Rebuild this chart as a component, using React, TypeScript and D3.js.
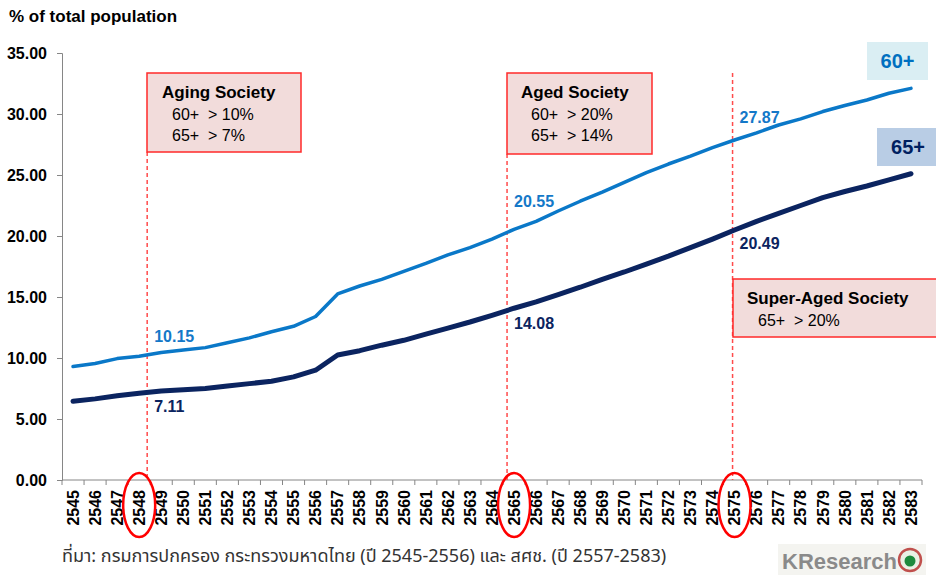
import React, { useEffect, useRef } from "react";
import * as d3 from "d3";

// years (Thai B.E.)
const years = d3.range(2545, 2584);
// share of total population, age 60+
const pop60 = [
  9.3, 9.55, 9.95, 10.15, 10.45, 10.65, 10.85, 11.25, 11.65, 12.15, 12.6, 13.4, 15.25,
  15.9, 16.45, 17.1, 17.75, 18.45, 19.05, 19.75, 20.55, 21.2, 22.05, 22.85, 23.6, 24.4,
  25.2, 25.9, 26.55, 27.25, 27.87, 28.45, 29.1, 29.6, 30.2, 30.7, 31.15, 31.7, 32.1,
];
// share of total population, age 65+
const pop65 = [
  6.45, 6.65, 6.9, 7.11, 7.3, 7.4, 7.5, 7.7, 7.9, 8.1, 8.45, 9.0, 10.25,
  10.6, 11.05, 11.45, 11.95, 12.45, 12.95, 13.5, 14.08, 14.6, 15.2, 15.8, 16.45, 17.05,
  17.7, 18.35, 19.05, 19.75, 20.49, 21.2, 21.85, 22.5, 23.15, 23.65, 24.1, 24.6, 25.1,
];
const yTicks = [0, 5, 10, 15, 20, 25, 30, 35];
const markerYears = [2548, 2565, 2575];

const FONT = "'Liberation Sans', Arial, sans-serif";

export default function App() {
  const ref = useRef<SVGSVGElement | null>(null);

  useEffect(() => {
    document.body.style.margin = "0";
    const width = 936;
    const height = 576;
    const margin = { top: 53, right: 14, bottom: 96, left: 62 };

    const svg = d3.select(ref.current).attr("width", width).attr("height", height);
    svg.selectAll("*").remove();

    const x = d3.scaleBand<number>().domain(years).range([margin.left, width - margin.right]).padding(0);
    const cx = (yr: number) => (x(yr) as number) + x.bandwidth() / 2;
    const y = d3.scaleLinear().domain([0, 35]).range([height - margin.bottom, margin.top]);
    const base = y(0);
    const xEnd = width - margin.right;

    // title
    svg.append("text").attr("x", 9).attr("y", 22).text("% of total population")
      .attr("font-family", FONT).attr("font-weight", "bold").attr("font-size", 17).attr("fill", "#000");

    // y axis
    const yAxis = svg.append("g").attr("transform", `translate(${margin.left},0)`)
      .call(d3.axisLeft(y).tickValues(yTicks).tickFormat((d) => d3.format(".2f")(d as number)).tickSize(5).tickPadding(10));
    yAxis.select(".domain").attr("stroke", "#868686");
    yAxis.selectAll(".tick line").attr("stroke", "#868686");
    yAxis.selectAll("text").attr("font-family", FONT).attr("font-weight", "bold").attr("font-size", 16).attr("fill", "#000");

    // x axis, ticks on category edges
    const gx = svg.append("g");
    gx.append("line").attr("x1", margin.left).attr("x2", xEnd).attr("y1", base).attr("y2", base).attr("stroke", "#868686");
    const edges = [...years.map((d) => x(d) as number), xEnd];
    gx.selectAll("line.tk").data(edges).enter().append("line").attr("class", "tk")
      .attr("x1", (d) => d).attr("x2", (d) => d)
      .attr("y1", base).attr("y2", base + 5).attr("stroke", "#868686");
    gx.selectAll("text").data(years).enter().append("text")
      .attr("transform", (d) => `translate(${cx(d)},${base + 10}) rotate(-90)`)
      .attr("dy", "0.36em").attr("text-anchor", "end").text((d) => d)
      .attr("font-family", FONT).attr("font-weight", "bold").attr("font-size", 16).attr("fill", "#000");

    // dashed marker lines (hand-placed slightly off the category centre, as in the source)
    const dashShift: Record<number, number> = { 2548: 8, 2565: -7, 2575: -2 };
    const dashTop: Record<number, number> = { 2548: 152, 2565: 154, 2575: 73 };
    const mx = (yr: number) => cx(yr) + dashShift[yr];
    svg.selectAll("line.mk").data(markerYears).enter().append("line").attr("class", "mk")
      .attr("x1", (d) => mx(d)).attr("x2", (d) => mx(d))
      .attr("y1", (d) => dashTop[d]).attr("y2", base)
      .attr("stroke", "#ff4b4b").attr("stroke-width", 1.5).attr("stroke-dasharray", "4,3");

    // series
    const line = d3.line<number>().x((_, i) => cx(years[i])).y((d) => y(d));
    svg.append("path").attr("d", line(pop60)).attr("fill", "none").attr("stroke", "#0a78c8")
      .attr("stroke-width", 3.5).attr("stroke-linecap", "round").attr("stroke-linejoin", "round");
    svg.append("path").attr("d", line(pop65)).attr("fill", "none").attr("stroke", "#0b2460")
      .attr("stroke-width", 5).attr("stroke-linecap", "round").attr("stroke-linejoin", "round");

    // value labels at marker years
    const labelDy60: Record<number, number> = { 2548: -14, 2565: -22, 2575: -17 };
    const labelDy65: Record<number, number> = { 2548: 19, 2565: 21, 2575: 19 };
    markerYears.forEach((yr) => {
      const i = years.indexOf(yr);
      svg.append("text").attr("x", mx(yr) + 7).attr("y", y(pop60[i]) + labelDy60[yr])
        .text(pop60[i].toFixed(2)).attr("font-family", FONT).attr("font-weight", "bold")
        .attr("font-size", 16).attr("fill", "#1478c8");
      svg.append("text").attr("x", mx(yr) + 7).attr("y", y(pop65[i]) + labelDy65[yr])
        .text(pop65[i].toFixed(2)).attr("font-family", FONT).attr("font-weight", "bold")
        .attr("font-size", 16).attr("fill", "#0b2460");
    });

    // red ellipses around the marker years
    svg.selectAll("ellipse.mk").data(markerYears).enter().append("ellipse").attr("class", "mk")
      .attr("cx", (d) => cx(d)).attr("cy", base + 25).attr("rx", 16).attr("ry", 32)
      .attr("fill", "none").attr("stroke", "#ff0000").attr("stroke-width", 2.5);

    // annotation boxes
    const boxes = [
      { x: 147, y: 73, w: 154, h: 79, title: "Aging Society", lines: ["60+  > 10%", "65+  > 7%"], tx: 162, lx: 172 },
      { x: 507, y: 73, w: 145, h: 81, title: "Aged Society", lines: ["60+  > 20%", "65+  > 14%"], tx: 521, lx: 531 },
      { x: 733, y: 279, w: 210, h: 58, title: "Super-Aged Society", lines: ["65+  > 20%"], tx: 747, lx: 758 },
    ];
    boxes.forEach((b) => {
      svg.append("rect").attr("x", b.x).attr("y", b.y).attr("width", b.w).attr("height", b.h)
        .attr("fill", "#f2dcdb").attr("stroke", "#ff2a2a").attr("stroke-width", 1.5);
      svg.append("text").attr("x", b.tx).attr("y", b.y + 25).text(b.title)
        .attr("font-family", FONT).attr("font-weight", "bold").attr("font-size", 17).attr("fill", "#000");
      b.lines.forEach((t, k) => {
        svg.append("text").attr("x", b.lx).attr("y", b.y + 47 + k * 21).text(t)
          .style("white-space", "pre").attr("font-family", FONT).attr("font-size", 16).attr("fill", "#000");
      });
    });

    // series name tags
    const tags = [
      { x: 867, y: 42, w: 61, h: 38, text: "60+", fill: "#daeef3", color: "#0070c0" },
      { x: 877, y: 128, w: 62, h: 38, text: "65+", fill: "#b9cde5", color: "#002060" },
    ];
    tags.forEach((t) => {
      svg.append("rect").attr("x", t.x).attr("y", t.y).attr("width", t.w).attr("height", t.h).attr("fill", t.fill);
      svg.append("text").attr("x", t.x + t.w / 2).attr("y", t.y + t.h / 2 + 7).attr("text-anchor", "middle")
        .text(t.text).attr("font-family", FONT).attr("font-weight", "bold").attr("font-size", 20).attr("fill", t.color);
    });

    // source note
    svg.append("text").attr("x", 62).attr("y", 562)
      .text("ที่มา: กรมการปกครอง กระทรวงมหาดไทย (ปี 2545-2556) และ สศช. (ปี 2557-2583)")
      .attr("font-family", "'Noto Sans Thai', 'Tahoma', 'DejaVu Sans', sans-serif").attr("font-size", 18).attr("fill", "#333");

    // logo
    svg.append("rect").attr("x", 778).attr("y", 544).attr("width", 148).attr("height", 31).attr("fill", "#f4f4f0");
    svg.append("text").attr("x", 782).attr("y", 569).text("KResearch")
      .attr("font-family", FONT).attr("font-weight", "bold").attr("font-size", 22).attr("fill", "#8a8a8a");
    svg.append("circle").attr("cx", 910).attr("cy", 560).attr("r", 11).attr("fill", "#e9f1e4")
      .attr("stroke", "#c0504d").attr("stroke-width", 2.5);
    svg.append("circle").attr("cx", 910).attr("cy", 561).attr("r", 5.5).attr("fill", "#1c8a3c");
  }, []);

  return <svg ref={ref} style={{ display: "block" }}></svg>;
}
